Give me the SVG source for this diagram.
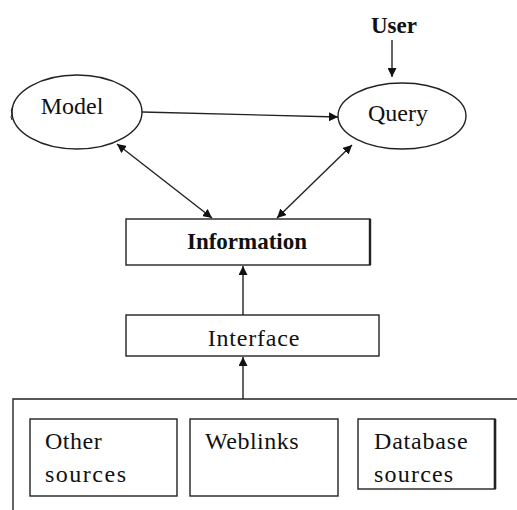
<svg xmlns="http://www.w3.org/2000/svg" width="517" height="510" viewBox="0 0 517 510" font-family="'Liberation Serif', 'DejaVu Serif', serif">
<style>
.shape{fill:#fff;stroke:#222;stroke-width:1.4}
.line{fill:none;stroke:#222;stroke-width:1.4}
text{font-family:'Liberation Serif','DejaVu Serif',serif;font-size:24px;fill:#111}
.b{font-weight:bold}
</style>
<defs>
<marker id="ah" viewBox="0 0 10 10" refX="10" refY="5" markerWidth="9" markerHeight="9" markerUnits="userSpaceOnUse" orient="auto-start-reverse">
<path d="M0,0 L10,5 L0,10 z" fill="#111"/>
</marker>
</defs>
<rect width="517" height="510" fill="#fff"/>
<g id="user"><text class="b" x="371" y="33" style="font-size:23px">User</text></g>
<g id="model">
<ellipse class="shape" cx="77" cy="112" rx="65" ry="37"/>
<path class="line" d="M13,106 Q10,110 12,114 Q10,117 12,120" style="stroke-width:1"/>
<text x="72" y="114" text-anchor="middle">Model</text>
</g>
<g id="query">
<ellipse class="shape" cx="402" cy="116" rx="64" ry="33"/>
<text x="398" y="121" text-anchor="middle">Query</text>
</g>
<g id="information">
<rect class="shape" x="126" y="219" width="244" height="46"/>
<line x1="370" y1="219" x2="370" y2="265" stroke="#222" stroke-width="2.4"/>
<text class="b" x="247" y="249" text-anchor="middle" style="font-size:23px">Information</text>
</g>
<g id="interface">
<rect class="shape" x="126" y="315" width="253" height="41"/>
<text x="254" y="346" text-anchor="middle" letter-spacing="0.8">Interface</text>
</g>
<g id="container">
<path class="line" d="M517,399 H13 V510"/>
</g>
<g id="other-sources">
<rect class="shape" x="30" y="419" width="147" height="77"/>
<text x="45" y="449" letter-spacing="0.5">Other</text>
<text x="45" y="482" letter-spacing="1.5">sources</text>
</g>
<g id="weblinks">
<rect class="shape" x="190" y="419" width="148" height="77"/>
<text x="205" y="449" letter-spacing="0.5">Weblinks</text>
</g>
<g id="database-sources">
<rect class="shape" x="358" y="419" width="137" height="70"/>
<line x1="495" y1="419" x2="495" y2="489" stroke="#222" stroke-width="2.6"/>
<text x="374" y="449" letter-spacing="0.8">Database</text>
<text x="374" y="482" letter-spacing="1.2">sources</text>
</g>
<g id="connectors">
<line class="line" x1="392" y1="40" x2="392" y2="77" marker-end="url(#ah)"/>
<line class="line" x1="142" y1="112" x2="338" y2="117" marker-end="url(#ah)"/>
<line class="line" x1="117" y1="144" x2="212" y2="218" marker-start="url(#ah)" marker-end="url(#ah)"/>
<line class="line" x1="352" y1="145" x2="277" y2="218" marker-start="url(#ah)" marker-end="url(#ah)"/>
<line class="line" x1="243" y1="315" x2="243" y2="266" marker-end="url(#ah)"/>
<line class="line" x1="243" y1="399" x2="243" y2="357" marker-end="url(#ah)"/>
</g>
</svg>
